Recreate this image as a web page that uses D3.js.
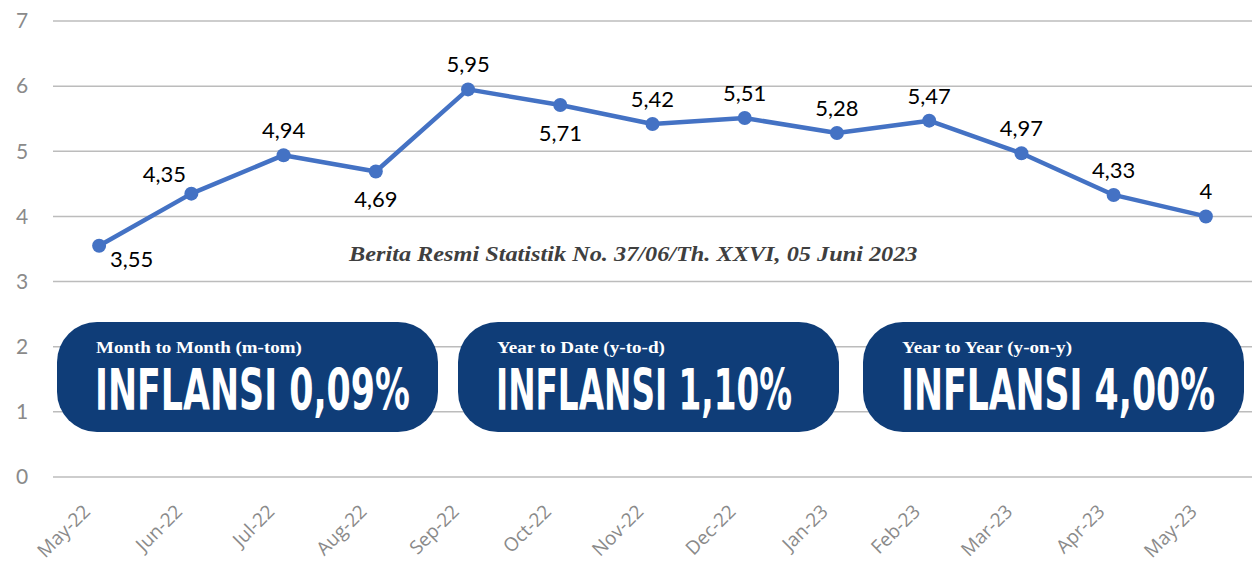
<!DOCTYPE html>
<html>
<head>
<meta charset="utf-8">
<script src="https://cdn.jsdelivr.net/npm/d3@7"></script>
<style>
  body { margin: 0; background: #fff; }
  #chart { width: 1252px; height: 570px; }
</style>
</head>
<body>
<div id="chart"></div>
<script>
var months = ["May-22","Jun-22","Jul-22","Aug-22","Sep-22","Oct-22","Nov-22","Dec-22","Jan-23","Feb-23","Mar-23","Apr-23","May-23"];
var inflation = [3.55, 4.35, 4.94, 4.69, 5.95, 5.71, 5.42, 5.51, 5.28, 5.47, 4.97, 4.33, 4];
var yTicks = [0, 1, 2, 3, 4, 5, 6, 7];

var boxTitles = ["Month to Month (m-tom)", "Year to Date (y-to-d)", "Year to Year (y-on-y)"];
var boxValues = ["INFLANSI 0,09%", "INFLANSI 1,10%", "INFLANSI 4,00%"];
var caption = "Berita Resmi Statistik No. 37/06/Th. XXVI, 05 Juni 2023";

var width = 1252, height = 570;
var margin = {top: 21, right: 0, bottom: 93, left: 53};

var svg = d3.select("#chart")
  .append("svg")
  .attr("width", width)
  .attr("height", height);

var xScale = d3.scalePoint()
  .domain(months)
  .range([margin.left, width - margin.right])
  .padding(0.5);

var yScale = d3.scaleLinear()
  .domain([0, 7])
  .range([height - margin.bottom, margin.top]);

// squeeze a text to a given width with a horizontal scale
function fitWidth(sel, target) {
  sel.each(function(d, i) {
    var w = this.getComputedTextLength();
    var t = typeof target === "function" ? target(d, i) : target;
    var x = +this.getAttribute("x");
    this.setAttribute("transform", "translate(" + x + ",0) scale(" + (t / w) + ",1) translate(" + (-x) + ",0)");
  });
}

// gridlines
svg.append("g")
  .selectAll("line")
  .data(yTicks)
  .enter()
  .append("line")
    .attr("x1", margin.left)
    .attr("x2", width - margin.right)
    .attr("y1", function(d) { return yScale(d); })
    .attr("y2", function(d) { return yScale(d); })
    .attr("stroke", "#bcbcbc")
    .attr("stroke-width", 1.5);

// y axis labels
var yAxis = svg.append("g")
  .attr("transform", "translate(" + (margin.left - 31) + ",0)")
  .call(d3.axisLeft(yScale).tickValues(yTicks).tickFormat(d3.format("d")).tickSize(0).tickPadding(0));
yAxis.select(".domain").remove();
yAxis.selectAll("text")
  .attr("text-anchor", "middle")
  .attr("font-family", "Lato, 'Open Sans', sans-serif")
  .attr("font-size", 21)
  .attr("fill", "#8a8a8a");

// x axis labels
var xAxis = svg.append("g")
  .attr("transform", "translate(0," + (height - margin.bottom) + ")")
  .call(d3.axisBottom(xScale).tickSize(0).tickPadding(0));
xAxis.select(".domain").remove();
xAxis.selectAll("text")
  .attr("font-family", "'Open Sans', Lato, sans-serif")
  .attr("font-size", 19)
  .attr("fill", "#8a8a8a")
  .attr("text-anchor", "end")
  .attr("y", 0)
  .attr("dy", "0.35em")
  .attr("transform", "translate(-13,31) rotate(-45)");

// caption
var cap = svg.append("text")
  .attr("x", 349)
  .attr("y", 261)
  .attr("font-family", "'Liberation Serif', 'DejaVu Serif', serif")
  .attr("font-style", "italic")
  .attr("font-weight", "bold")
  .attr("font-size", 21)
  .attr("fill", "#3f3f3f")
  .text(caption);
fitWidth(cap, 569);

// line
var line = d3.line()
  .x(function(d, i) { return xScale(months[i]); })
  .y(function(d) { return yScale(d); });

svg.append("path")
  .datum(inflation)
  .attr("d", line)
  .attr("fill", "none")
  .attr("stroke", "#4472c4")
  .attr("stroke-width", 4.5)
  .attr("stroke-linejoin", "round");

svg.selectAll("circle.pt")
  .data(inflation)
  .enter()
  .append("circle")
    .attr("class", "pt")
    .attr("cx", function(d, i) { return xScale(months[i]); })
    .attr("cy", function(d) { return yScale(d); })
    .attr("r", 7)
    .attr("fill", "#4472c4");

// data labels (Excel style placement)
var below = ["Aug-22", "Oct-22"];
svg.selectAll("text.lbl")
  .data(inflation)
  .enter()
  .append("text")
    .attr("class", "lbl")
    .attr("font-family", "Lato, 'Open Sans', sans-serif")
    .attr("font-size", 22)
    .attr("fill", "#000")
    .attr("text-anchor", function(d, i) { return i === 0 ? "start" : "middle"; })
    .attr("x", function(d, i) {
      var x = xScale(months[i]);
      if (i === 0) return x + 11;
      if (i === 1) return x - 27;
      return x;
    })
    .attr("y", function(d, i) {
      var y = yScale(d);
      if (i === 0) return y + 21;
      if (i === 1) return y - 12;
      if (below.indexOf(months[i]) >= 0) return y + 36;
      return y - 17;
    })
    .text(function(d) { return String(d).replace(".", ","); });

// inflation boxes
var boxX = [57, 458, 863];
var boxW = 381, boxH = 110, boxY = 322;
var textW = [315, 296, 314];
var titleW = [206, 168, 170];

var boxes = svg.selectAll("g.box")
  .data(boxValues)
  .enter()
  .append("g")
    .attr("class", "box")
    .attr("transform", function(d, i) { return "translate(" + boxX[i] + "," + boxY + ")"; });

boxes.append("rect")
  .attr("width", boxW)
  .attr("height", boxH)
  .attr("rx", 40)
  .attr("ry", 40)
  .attr("fill", "#0f3d78");

var titles = boxes.append("text")
  .attr("x", 39)
  .attr("y", 31)
  .attr("font-family", "'Liberation Serif', 'DejaVu Serif', serif")
  .attr("font-weight", "bold")
  .attr("font-size", 16)
  .attr("fill", "#fff")
  .text(function(d, i) { return boxTitles[i]; });
fitWidth(titles, function(d, i) { return titleW[i]; });

var values = boxes.append("text")
  .attr("x", 38)
  .attr("y", 88)
  .attr("font-family", "'Liberation Sans Narrow', 'DejaVu Sans Condensed', sans-serif")
  .attr("font-weight", "bold")
  .attr("font-size", 57)
  .attr("fill", "#fff")
  .text(function(d) { return d; });
fitWidth(values, function(d, i) { return textW[i]; });
</script>
</body>
</html>
